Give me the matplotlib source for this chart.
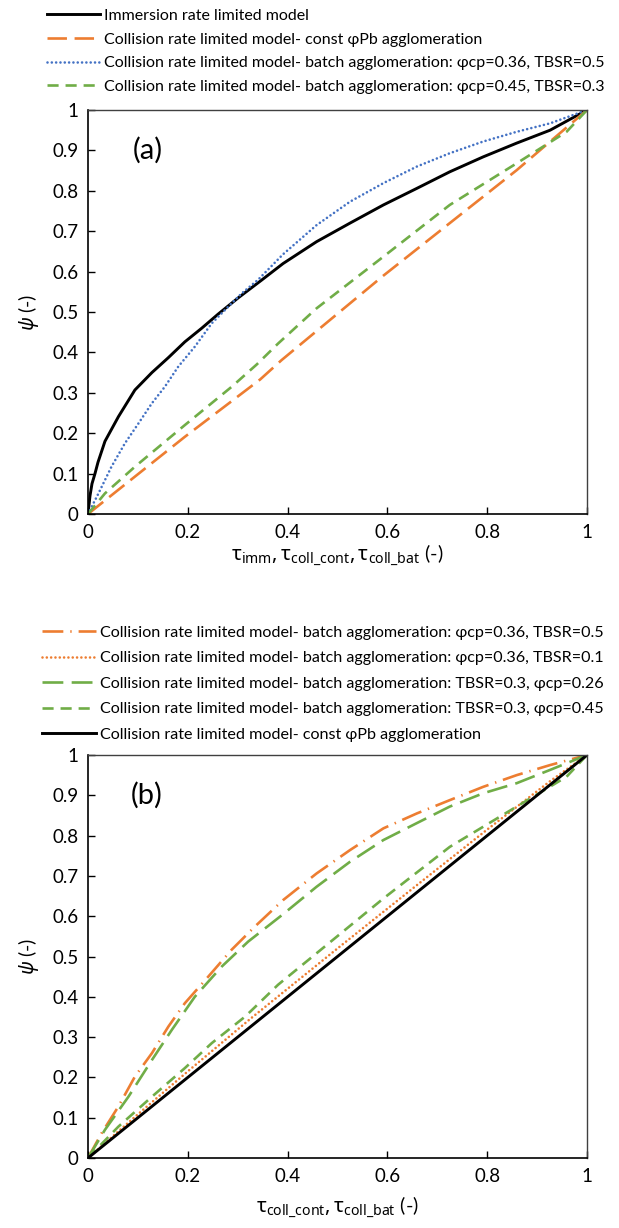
import matplotlib
matplotlib.use("Agg")
import matplotlib.pyplot as plt
import numpy as np

plt.rcParams['font.family'] = ['Lato', 'Noto Sans', 'DejaVu Sans']
plt.rcParams['mathtext.fontset'] = 'custom'
plt.rcParams['mathtext.rm'] = 'Noto Sans'
plt.rcParams['mathtext.it'] = 'Noto Sans:italic'
plt.rcParams['lines.scale_dashes'] = False

# ---------------- data: panel (a) ----------------
imm_x = [0, 0.004, 0.008, 0.014, 0.020, 0.034, 0.061, 0.094, 0.128, 0.161, 0.194, 0.228,
         0.261, 0.301, 0.348, 0.391, 0.458, 0.525, 0.592, 0.659, 0.725, 0.792, 0.859, 0.926, 1.0]
imm_y = [0, 0.045, 0.075, 0.100, 0.128, 0.180, 0.241, 0.307, 0.350, 0.387, 0.426, 0.460,
         0.495, 0.535, 0.579, 0.620, 0.674, 0.720, 0.765, 0.806, 0.847, 0.884, 0.918, 0.950, 1.0]

const_a_x = [0, 0.194, 0.345, 0.388, 0.592, 0.859, 1.0]
const_a_y = [0, 0.191, 0.333, 0.381, 0.590, 0.851, 1.0]

bat036_05_a_x = [0, 0.021, 0.047, 0.074, 0.101, 0.128, 0.154, 0.181, 0.214, 0.248, 0.281,
                 0.308, 0.341, 0.391, 0.458, 0.525, 0.592, 0.659, 0.725, 0.792, 0.859, 0.926, 1.0]
bat036_05_a_y = [0, 0.051, 0.117, 0.175, 0.224, 0.274, 0.315, 0.365, 0.414, 0.472, 0.513,
                 0.546, 0.580, 0.643, 0.715, 0.773, 0.819, 0.860, 0.893, 0.922, 0.946, 0.967, 1.0]

bat045_03_a_x = [0, 0.034, 0.094, 0.194, 0.288, 0.338, 0.381, 0.458, 0.592, 0.725, 0.859, 0.959, 1.0]
bat045_03_a_y = [0, 0.051, 0.117, 0.220, 0.315, 0.370, 0.422, 0.509, 0.637, 0.765, 0.868, 0.946, 1.0]

# ---------------- data: panel (b) ----------------
bat036_05_b_x = [0, 0.027, 0.061, 0.094, 0.128, 0.161, 0.194, 0.241, 0.288, 0.335, 0.391,
                 0.458, 0.525, 0.592, 0.659, 0.725, 0.792, 0.859, 0.926, 1.0]
bat036_05_b_y = [0, 0.061, 0.128, 0.202, 0.260, 0.326, 0.384, 0.450, 0.517, 0.575, 0.640,
                 0.706, 0.764, 0.818, 0.855, 0.888, 0.921, 0.950, 0.975, 1.0]

bat036_01_b_x = [0, 0.094, 0.200, 0.325, 0.500, 0.659, 0.800, 0.926, 1.0]
bat036_01_b_y = [0, 0.102, 0.215, 0.345, 0.520, 0.677, 0.815, 0.935, 1.0]

bat026_03_b_x = [0, 0.034, 0.081, 0.128, 0.168, 0.214, 0.268, 0.321, 0.391, 0.458, 0.525,
                 0.592, 0.659, 0.725, 0.792, 0.859, 0.926, 1.0]
bat026_03_b_y = [0, 0.070, 0.152, 0.243, 0.318, 0.400, 0.475, 0.537, 0.605, 0.673, 0.735,
                 0.789, 0.831, 0.872, 0.905, 0.930, 0.963, 1.0]

bat045_03_b_x = [0, 0.061, 0.128, 0.194, 0.248, 0.315, 0.381, 0.458, 0.592, 0.725, 0.859, 0.959, 1.0]
bat045_03_b_y = [0, 0.078, 0.152, 0.223, 0.285, 0.351, 0.430, 0.508, 0.644, 0.772, 0.872, 0.946, 1.0]

const_b_x = [0, 0.5, 1.0]
const_b_y = [0, 0.5, 1.0]

labels_a = ["Immersion rate limited model",
            "Collision rate limited model- const \u03c6Pb agglomeration",
            "Collision rate limited model- batch agglomeration: \u03c6cp=0.36, TBSR=0.5",
            "Collision rate limited model- batch agglomeration: \u03c6cp=0.45, TBSR=0.3"]
labels_b = ["Collision rate limited model- batch agglomeration: \u03c6cp=0.36, TBSR=0.5",
            "Collision rate limited model- batch agglomeration: \u03c6cp=0.36, TBSR=0.1",
            "Collision rate limited model- batch agglomeration: TBSR=0.3, \u03c6cp=0.26",
            "Collision rate limited model- batch agglomeration: TBSR=0.3, \u03c6cp=0.45",
            "Collision rate limited model- const \u03c6Pb agglomeration"]
yticks = [0, 0.1, 0.2, 0.3, 0.4, 0.5, 0.6, 0.7, 0.8, 0.9, 1]
xticks = [0, 0.2, 0.4, 0.6, 0.8, 1]
tick_labels_y = ["0", "0.1", "0.2", "0.3", "0.4", "0.5", "0.6", "0.7", "0.8", "0.9", "1"]
tick_labels_x = ["0", "0.2", "0.4", "0.6", "0.8", "1"]

ORANGE = '#ED7D31'
BLUE = '#4472C4'
GREEN = '#70AD47'

W, H = 619, 1228
fig = plt.figure(figsize=(W / 100, H / 100), dpi=100)


def px_axes(l, r, t, b):
    return fig.add_axes([l / W, 1 - b / H, (r - l) / W, (b - t) / H])


ax1 = px_axes(88, 587, 110, 514)
ax2 = px_axes(88, 587, 755, 1158)

LW = 1.9
l1, = ax1.plot(imm_x, imm_y, color='black', lw=2.1, solid_joinstyle='round')
l2, = ax1.plot(const_a_x, const_a_y, color=ORANGE, lw=LW, dashes=(14, 5.5))
l3, = ax1.plot(bat036_05_a_x, bat036_05_a_y, color=BLUE, lw=LW, dashes=(0.01, 3.1),
               dash_capstyle='round')
l4, = ax1.plot(bat045_03_a_x, bat045_03_a_y, color=GREEN, lw=LW, dashes=(8, 5))

m1, = ax2.plot(bat036_05_b_x, bat036_05_b_y, color=ORANGE, lw=LW, dashes=(15, 5, 1, 5))
m2, = ax2.plot(bat036_01_b_x, bat036_01_b_y, color=ORANGE, lw=LW, dashes=(0.01, 3.1),
               dash_capstyle='round')
m3, = ax2.plot(bat026_03_b_x, bat026_03_b_y, color=GREEN, lw=LW, dashes=(15, 6))
m4, = ax2.plot(bat045_03_b_x, bat045_03_b_y, color=GREEN, lw=LW, dashes=(8, 5))
m5, = ax2.plot(const_b_x, const_b_y, color='black', lw=2.1)

for ax in (ax1, ax2):
    ax.set_xlim(0, 1)
    ax.set_ylim(0, 1)
    ax.set_yticks(yticks)
    ax.set_yticklabels(tick_labels_y)
    ax.set_xticks(xticks)
    ax.set_xticklabels(tick_labels_x)
    ax.tick_params(direction='in', length=5, width=1, labelsize=13.5, pad=7)
    for s in ax.spines.values():
        s.set_linewidth(1.2)
        s.set_color('black')
    for s in ('top', 'right'):
        ax.spines[s].set_color('#404040')
        ax.spines[s].set_linewidth(1.0)
    ax.set_ylabel(r'$\psi$ (-)', fontsize=14, labelpad=8)

ax1.set_xlabel(r'$\mathrm{\tau_{imm}, \tau_{coll\_cont}, \tau_{coll\_bat}}$ (-)', fontsize=14.5, labelpad=1)
ax2.set_xlabel(r'$\mathrm{\tau_{coll\_cont}, \tau_{coll\_bat}}$ (-)', fontsize=14.5, labelpad=7)

ax1.text(0.12, 0.90, '(a)', fontsize=21, ha='center', va='center', transform=ax1.transAxes)
ax2.text(0.118, 0.90, '(b)', fontsize=21, ha='center', va='center', transform=ax2.transAxes)


def place_legend(handles, labels, line_left, text_left, text_right, row0, pitch):
    fs, ls = 12.0, 0.5
    ax_px, ay_px = float(line_left), float(row0 - 10)
    leg = None
    for it in range(5):
        if leg is not None:
            leg.remove()
        pad_px = 4.0
        hl = (text_left - pad_px - line_left) * 0.72 / fs
        htp = pad_px * 0.72 / fs
        leg = fig.legend(handles, labels, loc='upper left',
                         bbox_to_anchor=(ax_px / W, 1 - ay_px / H),
                         fontsize=fs, labelspacing=ls, handlelength=hl,
                         handletextpad=htp, frameon=False, borderpad=0,
                         borderaxespad=0)
        fig.canvas.draw()
        r = fig.canvas.get_renderer()
        exts = [t.get_window_extent(r) for t in leg.get_texts()]
        wmax = max(e.width for e in exts)
        centers = [H - (e.y0 + e.y1) / 2 for e in exts]
        cur_pitch = float(np.mean(np.diff(centers)))
        h_px = cur_pitch - ls * fs * 100 / 72
        new_fs = fs * (text_right - text_left) / wmax
        h_new = h_px * new_fs / fs
        ls = max(0.0, (pitch - h_new) / (new_fs * 100 / 72))
        ax_px += text_left - exts[0].x0
        ay_px += row0 - centers[0]
        fs = new_fs
    return leg


place_legend([l1, l2, l3, l4], labels_a, 47, 104, 606, 16, 23.6)
place_legend([m1, m2, m3, m4, m5], labels_b, 42, 100, 606, 633, 25.5)

fig.savefig('out.png', dpi=100)
